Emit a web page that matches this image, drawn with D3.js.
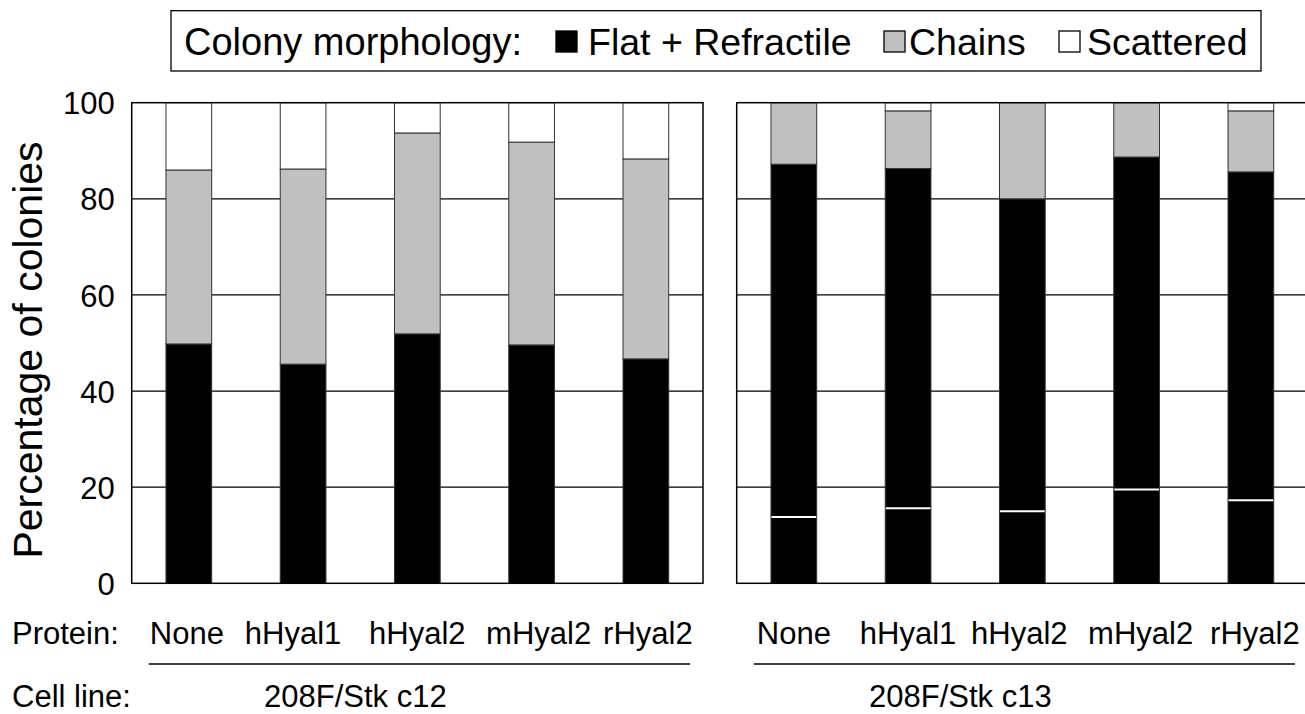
<!DOCTYPE html>
<html>
<head>
<meta charset="utf-8">
<script src="https://cdn.jsdelivr.net/npm/d3@7"></script>
<style>
html,body{margin:0;padding:0;background:#fff;}
svg{display:block;font-family:"Liberation Sans",Arial,Helvetica,sans-serif;}
</style>
</head>
<body>
<svg id="chart" width="1305" height="714"></svg>
<script>
// ---- data ----
const proteins = ["None", "hHyal1", "hHyal2", "mHyal2", "rHyal2"];
const cellLines = ["208F/Stk c12", "208F/Stk c13"];
const seriesNames = ["Flat + Refractile", "Chains", "Scattered"];
const flatC12 = [49.8, 45.6, 51.9, 49.6, 46.7];
const chainsC12 = [36.2, 40.6, 41.8, 42.2, 41.6];
const scatteredC12 = [14.0, 13.8, 6.3, 8.2, 11.7];
const flatC13 = [87.2, 86.3, 80.0, 88.7, 85.6];
const chainsC13 = [12.8, 12.0, 20.0, 11.3, 12.7];
const scatteredC13 = [0.0, 1.7, 0.0, 0.0, 1.7];
const flatSplitC13 = [13.8, 15.6, 15.0, 19.5, 17.3];
const yTicks = [0, 20, 40, 60, 80, 100];

// ---- layout ----
const svg = d3.select("#chart");
const yTop = 102.7, yBot = 583.3;
const panelW = 571.3;
const panelX = [131.7, 736.7];
const labelNudge = [[-2, -10, 0, 7, 2], [0, 0, -3, 4, 4]];
const colors = {"Flat + Refractile": "#000", "Chains": "#c0c0c0", "Scattered": "#fff"};
const keys = ["flat", "chains", "scattered"];
const keyName = {flat: "Flat + Refractile", chains: "Chains", scattered: "Scattered"};

const y = d3.scaleLinear().domain([0, 100]).range([yBot, yTop]);

const panels = [
  {flat: flatC12, chains: chainsC12, scattered: scatteredC12, split: null},
  {flat: flatC13, chains: chainsC13, scattered: scatteredC13, split: flatSplitC13}
];

panels.forEach((p, pi) => {
  const x = d3.scaleBand().domain(proteins)
    .range([panelX[pi], panelX[pi] + panelW])
    .paddingInner(0.6).paddingOuter(0.3);
  const rows = proteins.map((name, i) => ({name, flat: p.flat[i], chains: p.chains[i], scattered: p.scattered[i]}));
  const stacked = d3.stack().keys(keys)(rows);
  const g = svg.append("g");

  // gridlines
  g.selectAll("line.grid").data(yTicks.filter(t => t > 0 && t < 100)).join("line")
    .attr("x1", panelX[pi]).attr("x2", panelX[pi] + panelW)
    .attr("y1", d => y(d)).attr("y2", d => y(d))
    .attr("stroke", "#000").attr("stroke-width", 1.2);

  // bars
  stacked.forEach(s => {
    g.selectAll(null).data(s.filter(d => d[1] - d[0] > 0)).join("rect")
      .attr("x", d => x(d.data.name))
      .attr("width", x.bandwidth())
      .attr("y", d => y(d[1]))
      .attr("height", d => y(d[0]) - y(d[1]))
      .attr("fill", colors[keyName[s.key]])
      .attr("stroke", "#333").attr("stroke-width", 1);
  });

  // white split within black segment
  if (p.split) {
    g.selectAll(null).data(p.split).join("line")
      .attr("x1", (d, i) => x(proteins[i]) + 0.5)
      .attr("x2", (d, i) => x(proteins[i]) + x.bandwidth() - 0.5)
      .attr("y1", d => y(d)).attr("y2", d => y(d))
      .attr("stroke", "#fff").attr("stroke-width", 2);
  }

  // frame
  g.append("rect")
    .attr("x", panelX[pi]).attr("y", yTop)
    .attr("width", panelW).attr("height", yBot - yTop)
    .attr("fill", "none").attr("stroke", "#000").attr("stroke-width", 1.5);

  // protein labels
  g.selectAll(null).data(proteins).join("text")
    .attr("x", (d, i) => x(d) + x.bandwidth() / 2 + labelNudge[pi][i])
    .attr("y", 644)
    .attr("text-anchor", "middle")
    .attr("font-size", 31)
    .text(d => d);

  // underline
  g.append("line")
    .attr("x1", panelX[pi] + 17).attr("x2", panelX[pi] + panelW - 13)
    .attr("y1", 664).attr("y2", 664)
    .attr("stroke", "#000").attr("stroke-width", 1.5);

  // cell line label
  g.append("text")
    .attr("x", panelX[pi] + panelW / 2 - 62)
    .attr("y", 707)
    .attr("text-anchor", "middle")
    .attr("font-size", 31)
    .text(cellLines[pi]);
});

// y axis labels (left panel)
const yAxis = d3.axisLeft(y).tickValues(yTicks).tickSize(0).tickPadding(17);
const ax = svg.append("g").attr("transform", `translate(${panelX[0]},0)`).call(yAxis);
ax.select(".domain").remove();
ax.selectAll("text").attr("font-size", 31).attr("fill", "#000")
  .attr("font-family", "Liberation Sans, Arial, sans-serif").attr("dy", "0.36em");

// y title
svg.append("text")
  .attr("transform", "translate(42,350) rotate(-90)")
  .attr("text-anchor", "middle")
  .attr("font-size", 41)
  .text("Percentage of colonies");

// row labels
svg.append("text").attr("x", 12).attr("y", 644).attr("font-size", 31).text("Protein:");
svg.append("text").attr("x", 12).attr("y", 707).attr("font-size", 31).text("Cell line:");

// legend
const lg = svg.append("g");
lg.append("rect").attr("x", 171).attr("y", 10.7).attr("width", 1090).attr("height", 60.3)
  .attr("fill", "#fff").attr("stroke", "#000").attr("stroke-width", 1.3);
lg.append("text").attr("x", 184).attr("y", 54.5).attr("font-size", 38).text("Colony morphology:");
const legendX = [556, 884, 1059];
const legendTextX = [588, 909, 1087];
seriesNames.forEach((n, i) => {
  lg.append("rect").attr("x", legendX[i]).attr("y", 31).attr("width", 21).attr("height", 21)
    .attr("fill", colors[n]).attr("stroke", "#000").attr("stroke-width", 1.3);
  lg.append("text").attr("x", legendTextX[i]).attr("y", 54.5).attr("font-size", 37.5).text(n);
});
</script>
</body>
</html>
